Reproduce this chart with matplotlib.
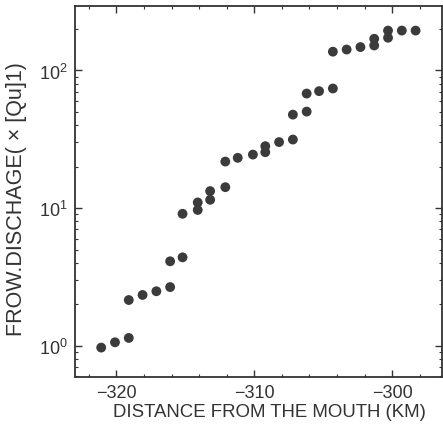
import matplotlib
matplotlib.use("Agg")
import matplotlib.pyplot as plt
from matplotlib.ticker import LogLocator, FixedLocator, MultipleLocator, NullFormatter

plt.rcParams['font.family'] = ['Liberation Sans', 'DejaVu Sans']
plt.rcParams['mathtext.fontset'] = 'custom'
plt.rcParams['mathtext.rm'] = 'Liberation Sans'
plt.rcParams['mathtext.it'] = 'Liberation Sans:italic'
plt.rcParams['mathtext.bf'] = 'Liberation Sans:bold'

# Distance from the river mouth (km) and flow discharge
distance_km = [-321.1, -320.1, -319.1, -319.1, -318.1, -317.1, -316.1, -316.1,
               -315.2, -315.2, -314.1, -314.1, -313.2, -313.2, -312.1, -312.1,
               -311.2, -310.1, -309.2, -309.2, -308.2, -307.2, -307.2, -306.2,
               -306.2, -305.3, -304.3, -304.3, -303.3, -302.3, -301.3, -301.3,
               -300.3, -300.3, -299.3, -298.3]
discharge = [0.97, 1.06, 1.14, 2.15, 2.34, 2.49, 2.67, 4.11,
             4.39, 9.1, 9.7, 11.0, 11.5, 13.3, 14.2, 21.8,
             23.2, 24.5, 25.5, 28.2, 30.2, 31.5, 47.8, 50.3,
             68.0, 70.8, 74.0, 137, 142, 148, 152, 170,
             173, 195, 195, 195]

x_ticks = [-320, -310, -300]
x_tick_labels = ["\u2212320", "\u2212310", "\u2212300"]
y_ticks = [1, 10, 100]
y_tick_labels = [r"$\mathregular{10^0}$", r"$\mathregular{10^1}$", r"$\mathregular{10^2}$"]

ink = "#333333"

fig = plt.figure(figsize=(4.43, 4.27), dpi=100)
ax = fig.add_axes([0.1693, 0.114, 0.828, 0.870])

ax.scatter(distance_km, discharge, s=50, color="#3b3b3b", edgecolors="none", zorder=3)

ax.set_yscale("log")
ax.set_xlim(-323.0, -296.4)
ax.set_ylim(0.59, 295)

ax.xaxis.set_major_locator(FixedLocator(x_ticks))
ax.set_xticklabels(x_tick_labels)
ax.xaxis.set_minor_locator(MultipleLocator(2))
ax.yaxis.set_major_locator(FixedLocator(y_ticks))
ax.set_yticklabels(y_tick_labels)
ax.yaxis.set_minor_locator(LogLocator(base=10, subs=range(2, 10)))
ax.yaxis.set_minor_formatter(NullFormatter())

ax.tick_params(which="both", direction="in", top=True, right=True, colors=ink,
               labelcolor=ink)
ax.tick_params(axis="x", labelsize=13)
ax.tick_params(axis="y", labelsize=13)
ax.tick_params(which="major", length=5, width=1.0, pad=5)
ax.tick_params(which="minor", length=2.5, width=0.8)

for sp in ax.spines.values():
    sp.set_color(ink)
    sp.set_linewidth(1.3)

ax.set_xlabel("DISTANCE FROM THE MOUTH (KM)", fontsize=13.4, color=ink)
ax.set_ylabel("FROW.DISCHAGE( \u00d7 [Qu]1)", fontsize=15.5, color=ink)
ax.xaxis.set_label_coords(0.53, -0.068)
ax.yaxis.set_label_coords(-0.131, 0.483)

fig.savefig("out.png", dpi=100)
